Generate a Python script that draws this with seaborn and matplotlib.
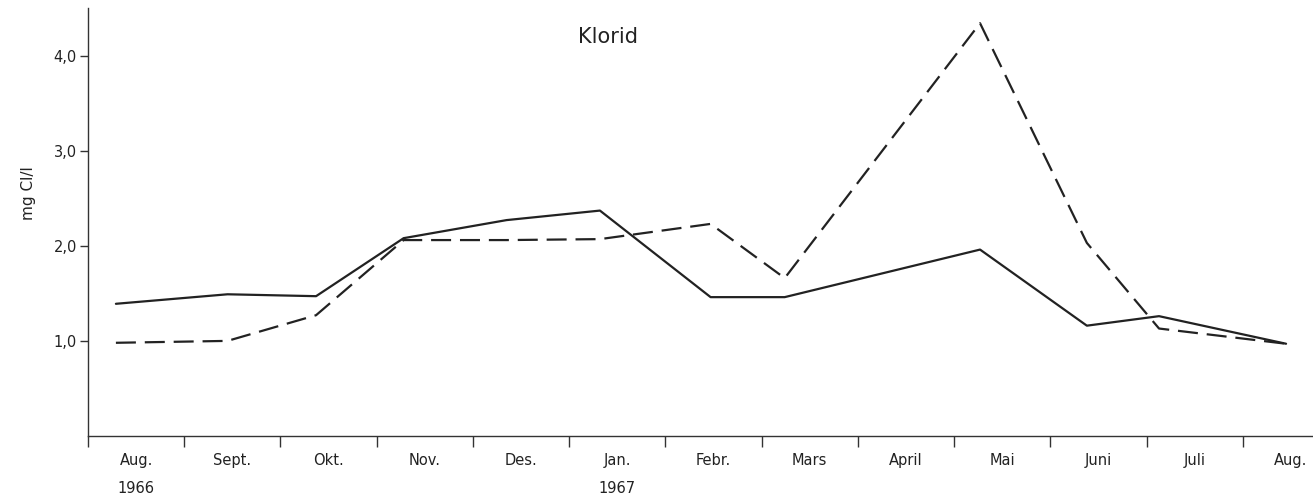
import matplotlib
matplotlib.use('Agg')
import matplotlib.pyplot as plt
import seaborn as sns
import pandas as pd

# month labels (ticks sit between them)
months = ['Aug.\n1966', 'Sept.', 'Okt.', 'Nov.', 'Des.', 'Jan.\n1967', 'Febr.',
          'Mars', 'April', 'Mai', 'Juni', 'Juli', 'Aug.']

# sampling dates in month units from start of Aug 1966
x_solid = [0.29, 1.45, 2.37, 3.28, 4.35, 5.32, 6.47, 7.24, 9.27, 10.38, 11.13, 12.45]
y_solid = [1.39, 1.49, 1.47, 2.08, 2.27, 2.37, 1.46, 1.46, 1.96, 1.16, 1.26, 0.97]

x_dashed = [0.29, 1.45, 2.37, 3.28, 4.35, 5.32, 6.47, 7.24, 9.27, 10.38, 11.13, 12.45]
y_dashed = [0.98, 1.00, 1.27, 2.06, 2.06, 2.07, 2.23, 1.66, 4.34, 2.03, 1.13, 0.97]

df = pd.DataFrame({
    'mnd': x_solid + x_dashed,
    'klorid': y_solid + y_dashed,
    'serie': ['a'] * len(x_solid) + ['b'] * len(x_dashed),
})

sns.set_style('ticks')
plt.rcParams['font.family'] = ['DejaVu Sans']

fig = plt.figure(figsize=(13.13, 5.03), dpi=100)
ax = fig.add_axes([88 / 1313, 67 / 503, 1 - 88 / 1313, 428 / 503])

sns.lineplot(data=df, x='mnd', y='klorid', style='serie', dashes={'a': '', 'b': (9, 4)},
             color='#222222', linewidth=1.6, legend=False, ax=ax, sort=False)

ax.set_xlim(0, 12.73)
ax.set_ylim(0, 4.5)

ax.set_xticks(range(0, 13))
ax.set_xticklabels([])
ax.set_xticks([i + 0.5 for i in range(len(months))], minor=True)
ax.set_xticklabels(months, minor=True, fontsize=10.5, color='#222222',
                   linespacing=2.1, va='top')
ax.tick_params(axis='x', which='major', length=8, width=1, color='#333333', direction='out')
ax.tick_params(axis='x', which='minor', length=0, pad=12)

ax.set_yticks([1, 2, 3, 4])
ax.set_yticklabels(['1,0', '2,0', '3,0', '4,0'], fontsize=10.5, color='#222222')
ax.tick_params(axis='y', length=6, width=1, color='#333333', direction='out', pad=2)

ax.set_xlabel('')
ax.set_ylabel('')
for side in ['left', 'bottom']:
    ax.spines[side].set_color('#333333')
    ax.spines[side].set_linewidth(1)
sns.despine(ax=ax, top=True, right=True)

fig.text(28 / 1313, 1 - 193 / 503, 'mg Cl/l', rotation=90, fontsize=11,
         color='#222222', ha='center', va='center')
ax.text(5.4, 4.2, 'Klorid', fontsize=15, color='#222222', ha='center', va='center')

fig.savefig('out.png', dpi=100)
